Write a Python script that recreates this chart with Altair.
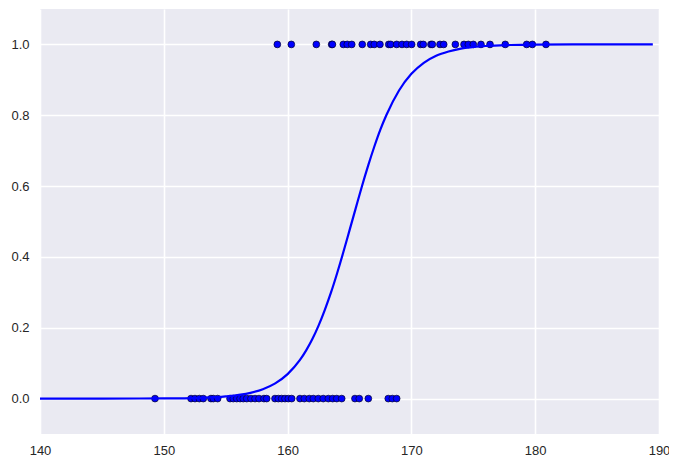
import altair as alt
import pandas as pd

# Observed heights with outcome 1
x_pos = [159.17, 160.30, 162.32, 163.56, 163.62, 164.50, 164.82, 165.18, 166.03,
         166.71, 167.00, 167.46, 168.17, 168.33, 168.81, 169.24, 169.62, 170.02,
         170.75, 170.96, 171.58, 171.69, 172.31, 172.61, 173.55, 174.25, 174.60,
         175.00, 175.62, 176.35, 177.58, 179.31, 179.77, 180.87]
# Observed heights with outcome 0
x_neg = [149.29, 152.20, 152.52, 152.87, 153.19, 153.81, 154.00, 154.35, 155.35,
         155.61, 155.89, 156.16, 156.42, 156.70, 157.04, 157.37, 157.69, 158.09,
         158.31, 158.98, 159.25, 159.52, 159.79, 160.06, 160.33, 161.00, 161.35,
         161.75, 162.08, 162.48, 162.88, 163.29, 163.64, 163.97, 164.37, 165.44,
         165.79, 166.52, 168.13, 168.46, 168.81]

# Fitted curve
curve_x = [140, 145, 150, 153, 155, 157, 158, 159, 160, 161, 161.5, 162, 162.5,
           163, 163.5, 164, 164.5, 165, 165.5, 166, 166.5, 167, 167.5, 168, 169,
           170, 171, 172, 173, 174, 176, 178, 180, 183, 186, 189.5]
curve_y = [0.0, 0.0, 0.0005, 0.0022, 0.006, 0.0163, 0.0266, 0.0431, 0.0692, 0.109,
           0.136, 0.168, 0.206, 0.250, 0.299, 0.354, 0.413, 0.475, 0.537, 0.599,
           0.657, 0.711, 0.760, 0.802, 0.870, 0.917, 0.948, 0.968, 0.980, 0.988,
           0.9955, 0.9983, 0.9994, 0.9999, 1.0, 1.0]

x_ticks = [140, 150, 160, 170, 180, 190]
y_ticks = [0.0, 0.2, 0.4, 0.6, 0.8, 1.0]

pts = pd.DataFrame({
    "x": x_pos + x_neg,
    "y": [1.0] * len(x_pos) + [0.0] * len(x_neg),
})
curve = pd.DataFrame({"x": curve_x, "y": curve_y})

xs = alt.Scale(domain=[140, 190], nice=False, zero=False)
ys = alt.Scale(domain=[-0.1, 1.1], nice=False, zero=False)

xaxis = alt.Axis(values=x_ticks, format="d", title=None, grid=True,
                 gridColor="white", gridWidth=1.6, domain=False, ticks=False,
                 tickSize=0, labelPadding=10)
yaxis = alt.Axis(values=y_ticks, format=".1f", title=None, grid=True,
                 gridColor="white", gridWidth=1.6, domain=False, ticks=False,
                 tickSize=0, labelPadding=11)

line = alt.Chart(curve).mark_line(color="#0000ff", strokeWidth=2.2, clip=True,
                                  interpolate="monotone").encode(
    x=alt.X("x:Q", scale=xs, axis=xaxis),
    y=alt.Y("y:Q", scale=ys, axis=yaxis),
)

points = alt.Chart(pts).mark_point(
    filled=True, color="#0000ff", stroke="#00002a", strokeWidth=0.7,
    size=46, opacity=1, shape="circle"
).encode(
    x=alt.X("x:Q", scale=xs),
    y=alt.Y("y:Q", scale=ys),
)

chart = alt.layer(points, line).properties(
    width=619, height=425,
    autosize=alt.AutoSizeParams(type="none"),
    padding={"left": 32, "top": 1, "right": 10, "bottom": 30},
).configure_view(
    fill="#EAEAF2", stroke=None
).configure_axis(
    labelFont="Liberation Sans", labelFontSize=13, labelColor="#262626",
    gridColor="white"
).configure_axisX(
    labelFlush=False
).configure_axisY(
    labelFlush=False
)

chart.save("out.html", embed_options={"renderer": "svg", "actions": False})
